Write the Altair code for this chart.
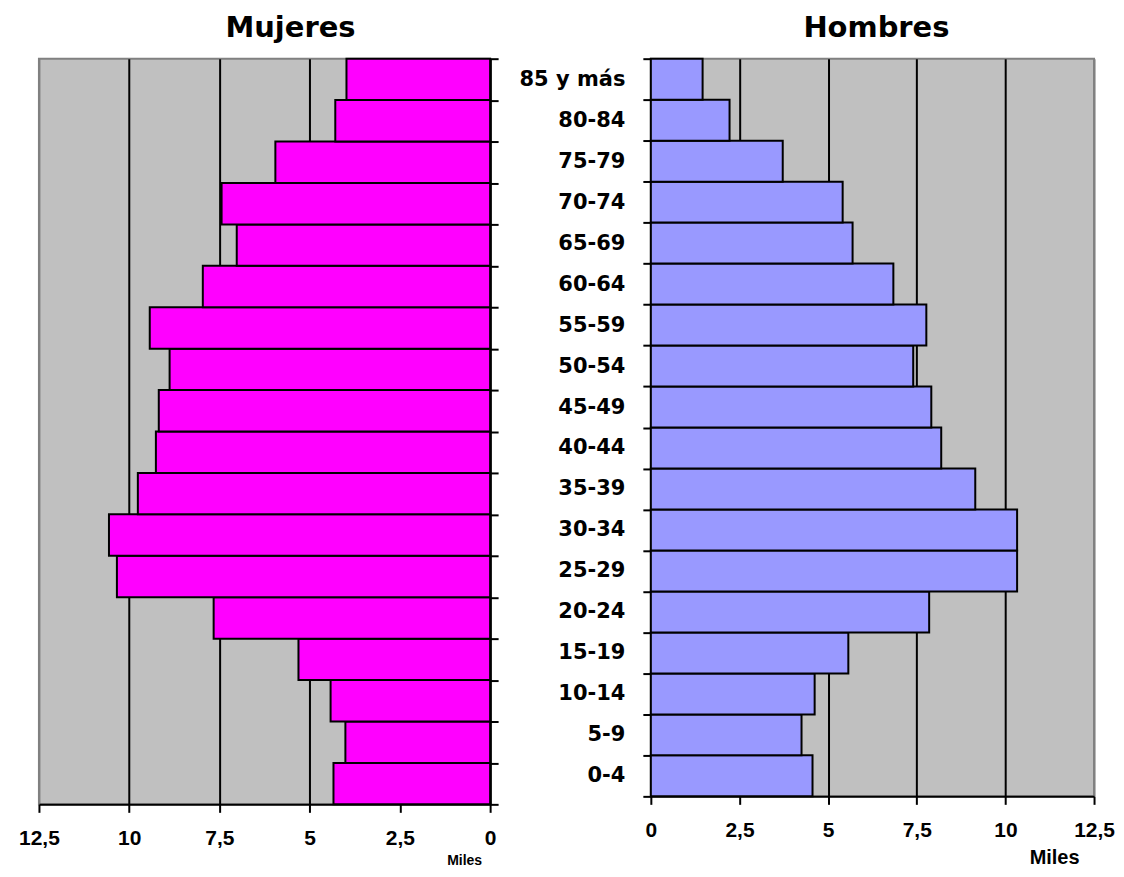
import altair as alt
import pandas as pd

ages = ["0-4", "5-9", "10-14", "15-19", "20-24", "25-29", "30-34", "35-39", "40-44",
        "45-49", "50-54", "55-59", "60-64", "65-69", "70-74", "75-79", "80-84", "85 y más"]
mujeres = [4.34, 4.01, 4.42, 5.31, 7.66, 10.34, 10.56, 9.76, 9.26,
           9.18, 8.88, 9.43, 7.96, 7.02, 7.44, 5.95, 4.29, 3.98]
hombres = [4.56, 4.25, 4.62, 5.57, 7.85, 10.33, 10.33, 9.15, 8.19,
           7.91, 7.40, 7.77, 6.84, 5.69, 5.41, 3.72, 2.22, 1.46]
tick_values = [0, 2.5, 5, 7.5, 10, 12.5]

df = pd.DataFrame({"edad": ages, "mujeres": mujeres, "hombres": hombres})
order = list(reversed(ages))
FONT = "DejaVu Sans"
NUMFONT = "Liberation Sans"

grid_cond = alt.condition("datum.value == 12.5", alt.value("#808080"), alt.value("black"))
label_expr = "replace(datum.label, '.', ',')"

left = alt.Chart(df).mark_bar(color="#FF00FF", stroke="black", strokeWidth=2).encode(
    x=alt.X("mujeres:Q",
            scale=alt.Scale(domain=[0, 12.5], reverse=True, nice=False),
            axis=alt.Axis(values=tick_values, format=".1~f", title="Miles", titleX=426, titleY=60,
                          titleAlign="center", titleAnchor="start", titleBaseline="alphabetic",
                          titleFontSize=14, labelFlush=False, labelExpr=label_expr,
                          gridColor=grid_cond)),
    y=alt.Y("edad:N", sort=order, scale=alt.Scale(paddingInner=0, paddingOuter=0),
            axis=alt.Axis(orient="right", labels=False, title=None, tickBand="extent", grid=False))
).properties(width=452, height=747,
             title=alt.TitleParams("Mujeres", anchor="middle", dx=26, offset=15))

right = alt.Chart(df).mark_bar(color="#9999FF", stroke="black", strokeWidth=2).encode(
    x=alt.X("hombres:Q",
            scale=alt.Scale(domain=[0, 12.5], nice=False),
            axis=alt.Axis(values=tick_values, format=".1~f", title="Miles", titleX=404, titleY=67,
                          titleAlign="center", titleAnchor="start", titleBaseline="alphabetic",
                          titleFontSize=20, labelFlush=False, labelExpr=label_expr,
                          gridColor=grid_cond)),
    y=alt.Y("edad:N", sort=order, scale=alt.Scale(paddingInner=0, paddingOuter=0),
            axis=alt.Axis(orient="left", title=None, tickBand="extent", grid=False,
                          labelPadding=18, labelFontSize=21, labelFont=FONT))
).properties(width=444, height=739,
             title=alt.TitleParams("Hombres", anchor="middle", dx=4, offset=5))

chart = alt.hconcat(left, right, spacing=161, bounds="flush").configure_view(
    fill="#C0C0C0", stroke="#808080", strokeWidth=2
).configure_axis(
    domainColor="black", domainWidth=2, tickColor="black", tickWidth=2, tickSize=8,
    gridColor="black", gridWidth=2, labelColor="black", titleColor="black",
    labelFont=NUMFONT, labelFontSize=21, labelFontWeight="bold", labelPadding=15,
    titleFont=NUMFONT, titleFontWeight="bold"
).configure_title(
    font=FONT, fontSize=29, fontWeight="bold", color="black"
).properties(padding={"left": 9, "top": 4, "right": 0, "bottom": 0})

chart.save("out.html", embed_options={"renderer": "svg", "actions": False})
